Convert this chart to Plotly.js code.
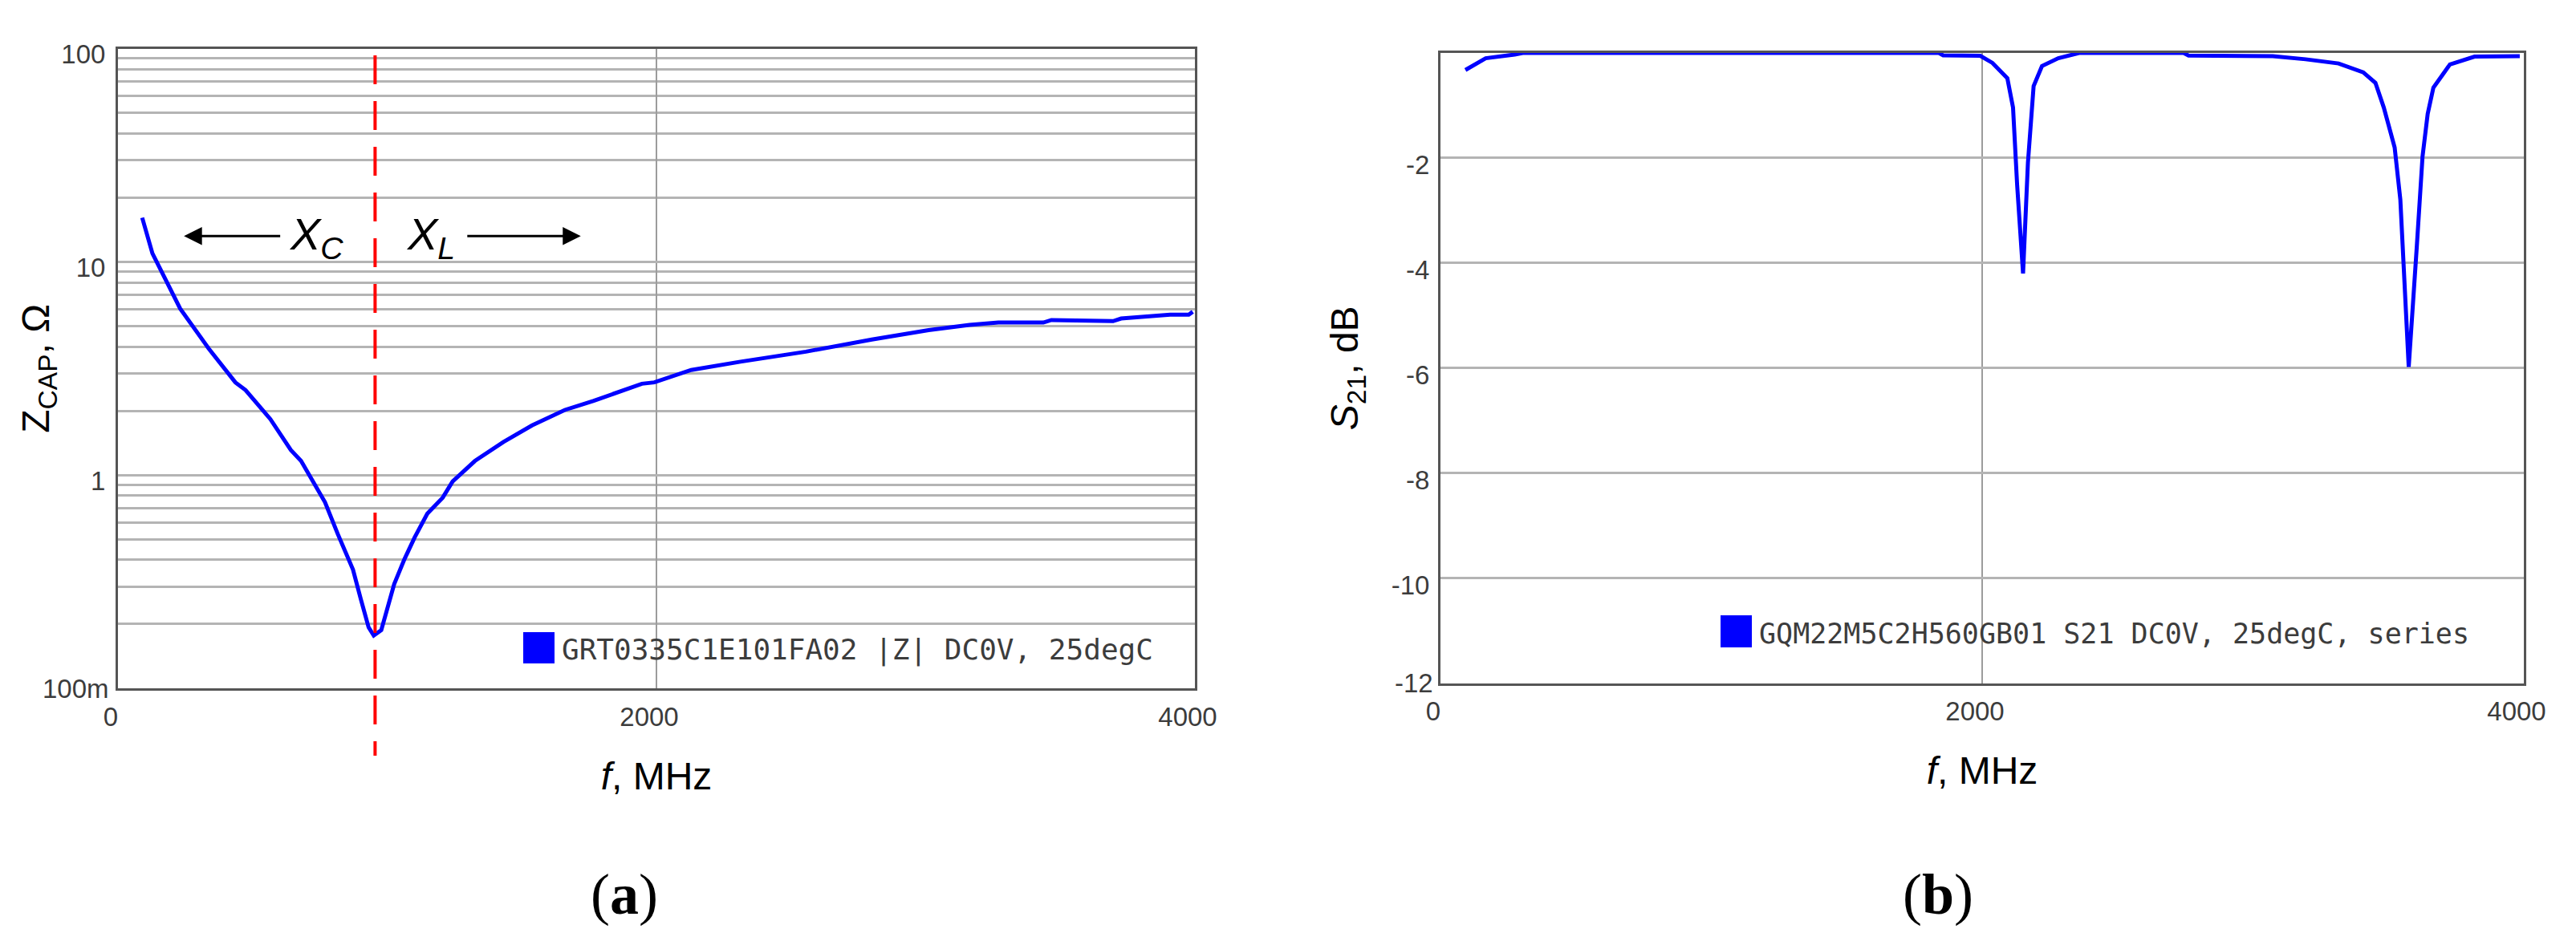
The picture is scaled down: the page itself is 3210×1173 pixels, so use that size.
<!DOCTYPE html>
<html>
<head>
<meta charset="utf-8">
<script src="https://cdn.plot.ly/plotly-3.0.1.min.js"></script>
<style>
  html, body { margin: 0; padding: 0; background: #fff; }
  #chart { width: 3210px; height: 1173px; }
</style>
</head>
<body>
<div id="chart"></div>
<script>
// (a) impedance magnitude of the capacitor
const freqA = [90, 128, 231, 337, 436, 474, 566, 642, 680, 725, 769, 817, 873, 902, 931, 950, 978, 1026, 1064, 1102, 1149, 1206, 1243, 1326, 1432, 1538, 1660, 1767, 1946, 1992, 2129, 2312, 2555, 2800, 3011, 3163, 3270, 3437, 3467, 3696, 3726, 3908, 3977, 3992];
const impedanceA = [16.1, 10.95, 6.03, 3.92, 2.72, 2.5, 1.83, 1.31, 1.165, 0.93, 0.746, 0.527, 0.36, 0.262, 0.193, 0.177, 0.1875, 0.308, 0.403, 0.51, 0.659, 0.783, 0.933, 1.165, 1.43, 1.71, 2.02, 2.23, 2.68, 2.72, 3.11, 3.4, 3.79, 4.32, 4.78, 5.06, 5.19, 5.19, 5.33, 5.27, 5.42, 5.65, 5.65, 5.83];
const resonanceFreq = 955;

// (b) S21 of the series capacitor
const freqB = [92, 167, 274, 304, 1840, 1856, 1993, 2038, 2093, 2114, 2129, 2151, 2169, 2190, 2221, 2281, 2358, 2744, 2762, 3073, 3194, 3316, 3407, 3452, 3483, 3523, 3544, 3575, 3605, 3626, 3645, 3666, 3727, 3818, 3985];
const s21B = [-0.325, -0.1, -0.03, 0, 0, -0.045, -0.055, -0.19, -0.48, -1.04, -2.5, -4.2, -2.09, -0.63, -0.25, -0.1, 0, 0, -0.05, -0.06, -0.12, -0.2, -0.37, -0.57, -1.04, -1.8, -2.79, -5.98, -3.67, -1.97, -1.16, -0.66, -0.22, -0.07, -0.06];

// ticks
const freqTicks = [0, 2000, 4000];
const zTicks = [1, 10, 100];
const zTickText = ['1', '10', '100'];
const zMinor = [0.2, 0.3, 0.4, 0.5, 0.6, 0.7, 0.8, 0.9, 2, 3, 4, 5, 6, 7, 8, 9, 20, 30, 40, 50, 60, 70, 80, 90];
const dbTicks = [-2, -4, -6, -8, -10];
const dbTickText = ['-2', '-4', '-6', '-8', '-10'];

const legendA = 'GRT0335C1E101FA02 |Z| DC0V, 25degC';
const legendB = 'GQM22M5C2H560GB01 S21 DC0V, 25degC, series';

// figure size, used to turn pixel positions into paper fractions
const W = 3210, H = 1173;
const px = v => v / W;
const py = v => 1 - v / H;

const sansFont = '"Liberation Sans", Arial, sans-serif';
const serifFont = '"Liberation Serif", serif';
const tickFont = { family: sansFont, size: 33, color: '#3c3c3c' };
const titleFont = { family: sansFont, size: 48, color: '#000' };
const monoFont = { family: '"DejaVu Sans Mono", monospace', size: 36, color: '#3c3c3c' };
const blue = '#0000ff';

const commonX = {
  range: [0, 4000],
  tickmode: 'array',
  tickvals: freqTicks,
  ticktext: freqTicks.map(String),
  tickfont: tickFont,
  ticklabelshift: -9,
  ticklabelstandoff: 4,
  ticks: '',
  showgrid: true,
  gridcolor: '#9c9c9c',
  gridwidth: 2,
  zeroline: false,
  showline: true,
  mirror: true,
  linecolor: '#555',
  linewidth: 3,
  layer: 'below traces'
};

const commonY = {
  tickmode: 'array',
  tickfont: tickFont,
  ticks: '',
  showgrid: true,
  gridcolor: '#b4b4b4',
  gridwidth: 3,
  zeroline: false,
  showline: true,
  mirror: true,
  linecolor: '#555',
  linewidth: 3,
  layer: 'below traces'
};

const traces = [
  {
    x: freqA, y: impedanceA, xaxis: 'x', yaxis: 'y',
    type: 'scatter', mode: 'lines', showlegend: false,
    line: { color: blue, width: 5 }
  },
  {
    x: freqB, y: s21B, xaxis: 'x2', yaxis: 'y2',
    type: 'scatter', mode: 'lines', showlegend: false, cliponaxis: false,
    line: { color: blue, width: 5 }
  }
];

const layout = {
  width: W,
  height: H,
  margin: { l: 0, r: 0, t: 0, b: 0 },
  paper_bgcolor: '#fff',
  plot_bgcolor: '#fff',
  showlegend: false,
  xaxis: Object.assign({}, commonX, {
    domain: [px(147), px(1489)],
    anchor: 'y',
    title: { text: '<i>f</i>, MHz', font: titleFont, standoff: 40 }
  }),
  yaxis: Object.assign({}, commonY, {
    type: 'log',
    range: [-1, 2],
    domain: [py(858), py(60.5)],
    anchor: 'x',
    tickvals: zTicks,
    ticktext: zTickText,
    ticklabelstandoff: 6,
    ticklabelshift: 7,
    minor: { tickmode: 'array', tickvals: zMinor, showgrid: true, gridcolor: '#b4b4b4', gridwidth: 3, ticks: '' },
    title: { text: 'Z<sub>CAP</sub>, Ω', font: titleFont, standoff: 0 }
  }),
  xaxis2: Object.assign({}, commonX, {
    domain: [px(1795), px(3145)],
    anchor: 'y2',
    title: { text: '<i>f</i>, MHz', font: titleFont, standoff: 40 }
  }),
  yaxis2: Object.assign({}, commonY, {
    range: [-12, 0],
    domain: [py(851.5), py(66)],
    anchor: 'x2',
    tickvals: dbTicks,
    ticktext: dbTickText,
    ticklabelstandoff: 4,
    ticklabelshift: 9,
    title: { text: '<i>S</i><sub>21</sub>, dB', font: titleFont, standoff: 26 }
  }),
  shapes: [
    // white patches that hide the grid behind the legends
    { type: 'rect', layer: 'between', xref: 'paper', yref: 'paper', x0: px(605), x1: px(1468), y0: py(848), y1: py(764), fillcolor: '#fff', line: { width: 0 } },
    { type: 'rect', layer: 'between', xref: 'paper', yref: 'paper', x0: px(2110), x1: px(3110), y0: py(818), y1: py(756), fillcolor: '#fff', line: { width: 0 } },
    // legend swatches
    { type: 'rect', xref: 'paper', yref: 'paper', x0: px(652), x1: px(691), y0: py(827), y1: py(788), fillcolor: blue, line: { width: 0 } },
    { type: 'rect', xref: 'paper', yref: 'paper', x0: px(2144), x1: px(2183), y0: py(807), y1: py(767), fillcolor: blue, line: { width: 0 } },
    // resonance marker, runs below the axis
    { type: 'line', xref: 'x', yref: 'paper', x0: resonanceFreq, x1: resonanceFreq, y0: py(69), y1: py(942), line: { color: '#ff0000', width: 4, dash: '36px,21px' } }
  ],
  annotations: [
    // bottom tick labels sit level with the frame, unlike the others
    { xref: 'paper', yref: 'y', x: px(147), y: -1, text: '100m', showarrow: false, xanchor: 'right', yanchor: 'middle', xshift: -9, font: tickFont },
    { xref: 'paper', yref: 'y2', x: px(1795), y: -12, text: '-12', showarrow: false, xanchor: 'right', yanchor: 'middle', xshift: -7, font: tickFont },
    // reactance arrows, log axis so y is log10
    { xref: 'x', yref: 'y', axref: 'x', ayref: 'y', x: 245, y: 1.121, ax: 607, ay: 1.121, text: '', showarrow: true, arrowhead: 2, arrowsize: 1.5, arrowwidth: 3, arrowcolor: '#000' },
    { xref: 'x', yref: 'y', axref: 'x', ayref: 'y', x: 1719, y: 1.121, ax: 1293, ay: 1.121, text: '', showarrow: true, arrowhead: 2, arrowsize: 1.5, arrowwidth: 3, arrowcolor: '#000' },
    { xref: 'x', yref: 'y', x: 736, y: 1.117, text: '<i>X<sub>C</sub></i>', showarrow: false, font: { family: sansFont, size: 56, color: '#000' } },
    { xref: 'x', yref: 'y', x: 1160, y: 1.117, text: '<i>X<sub>L</sub></i>', showarrow: false, font: { family: sansFont, size: 56, color: '#000' } },
    // legends
    { xref: 'paper', yref: 'paper', x: px(698), y: py(810), xanchor: 'left', yanchor: 'middle', text: legendA, showarrow: false, font: monoFont },
    { xref: 'paper', yref: 'paper', x: px(2190), y: py(790), xanchor: 'left', yanchor: 'middle', text: legendB, showarrow: false, font: Object.assign({}, monoFont, { size: 35 }) },
    // captions
    { xref: 'paper', yref: 'paper', x: px(778), y: py(1115), xanchor: 'center', yanchor: 'middle', text: '(<b>a</b>)', showarrow: false, font: { family: serifFont, size: 72, color: '#000' } },
    { xref: 'paper', yref: 'paper', x: px(2415), y: py(1115), xanchor: 'center', yanchor: 'middle', text: '(<b>b</b>)', showarrow: false, font: { family: serifFont, size: 72, color: '#000' } }
  ]
};

Plotly.newPlot('chart', traces, layout, { displayModeBar: false, staticPlot: true });
</script>
</body>
</html>
